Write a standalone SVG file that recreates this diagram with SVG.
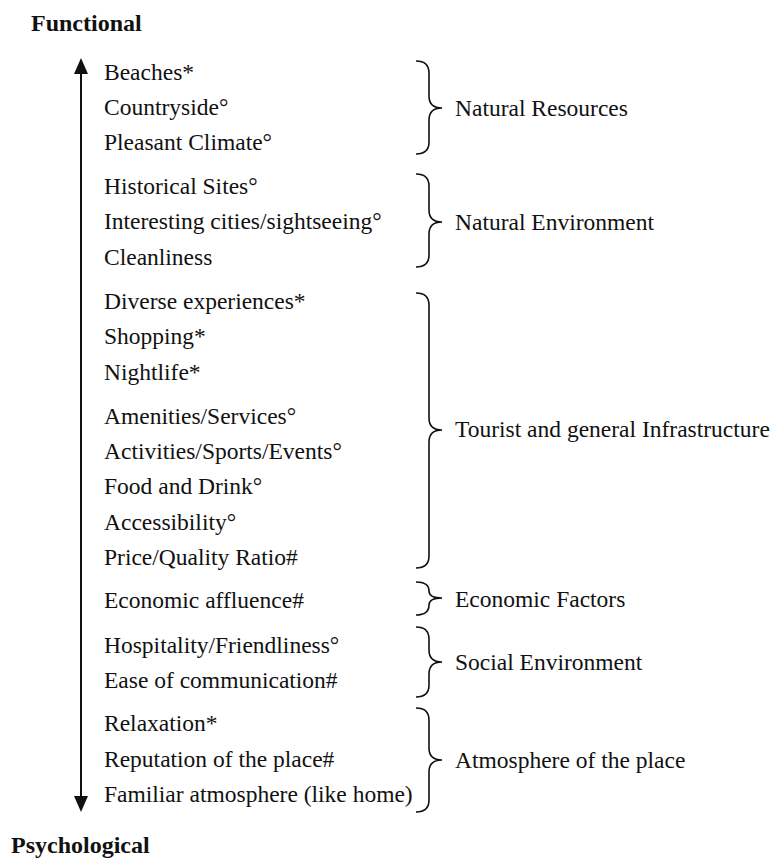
<svg xmlns="http://www.w3.org/2000/svg" width="779" height="858" viewBox="0 0 779 858">
<style>
text{font-family:"Liberation Serif","Times New Roman",serif;font-size:23.5px;fill:#111}
.b{font-weight:bold;font-size:24px}
.br{fill:none;stroke:#111;stroke-width:1.6}
.ax{stroke:#111;stroke-width:2;fill:none}
</style>
<rect width="779" height="858" fill="#fff"/>
<g id="axis-labels">
<text class="b" x="31" y="31">Functional</text>
<text class="b" x="11" y="853">Psychological</text>
</g>
<g id="connectors">
<line class="ax" x1="81" y1="73" x2="81" y2="797"/>
<path d="M74,74 L81,58 L88,74 Z" fill="#111"/>
<path d="M74,796 L81,812 L88,796 Z" fill="#111"/>
</g>
<g id="items">
<text x="104" y="80">Beaches*</text>
<text x="104" y="115">Countryside°</text>
<text x="104" y="150">Pleasant Climate°</text>
<text x="104" y="194">Historical Sites°</text>
<text x="104" y="229">Interesting cities/sightseeing°</text>
<text x="104" y="265">Cleanliness</text>
<text x="104" y="309">Diverse experiences*</text>
<text x="104" y="344">Shopping*</text>
<text x="104" y="380">Nightlife*</text>
<text x="104" y="424">Amenities/Services°</text>
<text x="104" y="459">Activities/Sports/Events°</text>
<text x="104" y="494">Food and Drink°</text>
<text x="104" y="530">Accessibility°</text>
<text x="104" y="565">Price/Quality Ratio#</text>
<text x="104" y="608">Economic affluence#</text>
<text x="104" y="653">Hospitality/Friendliness°</text>
<text x="104" y="688">Ease of communication#</text>
<text x="104" y="731">Relaxation*</text>
<text x="104" y="767">Reputation of the place#</text>
<text x="104" y="802">Familiar atmosphere (like home)</text>
</g>
<g id="natural-resources">
<path class="br" d="M416,61 Q429,61 429,73 L429,96 Q429,108 442,108 Q429,108 429,120 L429,142 Q429,154 416,154"/>
<text x="455" y="116">Natural Resources</text>
</g>
<g id="natural-environment">
<path class="br" d="M416,174 Q429,174 429,186 L429,210 Q429,222 442,222 Q429,222 429,234 L429,255 Q429,267 416,267"/>
<text x="455" y="230">Natural Environment</text>
</g>
<g id="tourist-infrastructure">
<path class="br" d="M416,293 Q429,293 429,305 L429,418 Q429,430 442,430 Q429,430 429,442 L429,556 Q429,568 416,568"/>
<text x="455" y="437">Tourist and general Infrastructure</text>
</g>
<g id="economic-factors">
<path class="br" d="M416,582 Q429,582 429,591 Q429,598 442,598 Q429,598 429,605 Q429,615 416,615"/>
<text x="455" y="607">Economic Factors</text>
</g>
<g id="social-environment">
<path class="br" d="M416,627 Q429,627 429,639 L429,650 Q429,662 442,662 Q429,662 429,674 L429,685 Q429,697 416,697"/>
<text x="455" y="670">Social Environment</text>
</g>
<g id="atmosphere">
<path class="br" d="M416,708 Q429,708 429,720 L429,748 Q429,760 442,760 Q429,760 429,772 L429,800 Q429,812 416,812"/>
<text x="455" y="768">Atmosphere of the place</text>
</g>
</svg>
